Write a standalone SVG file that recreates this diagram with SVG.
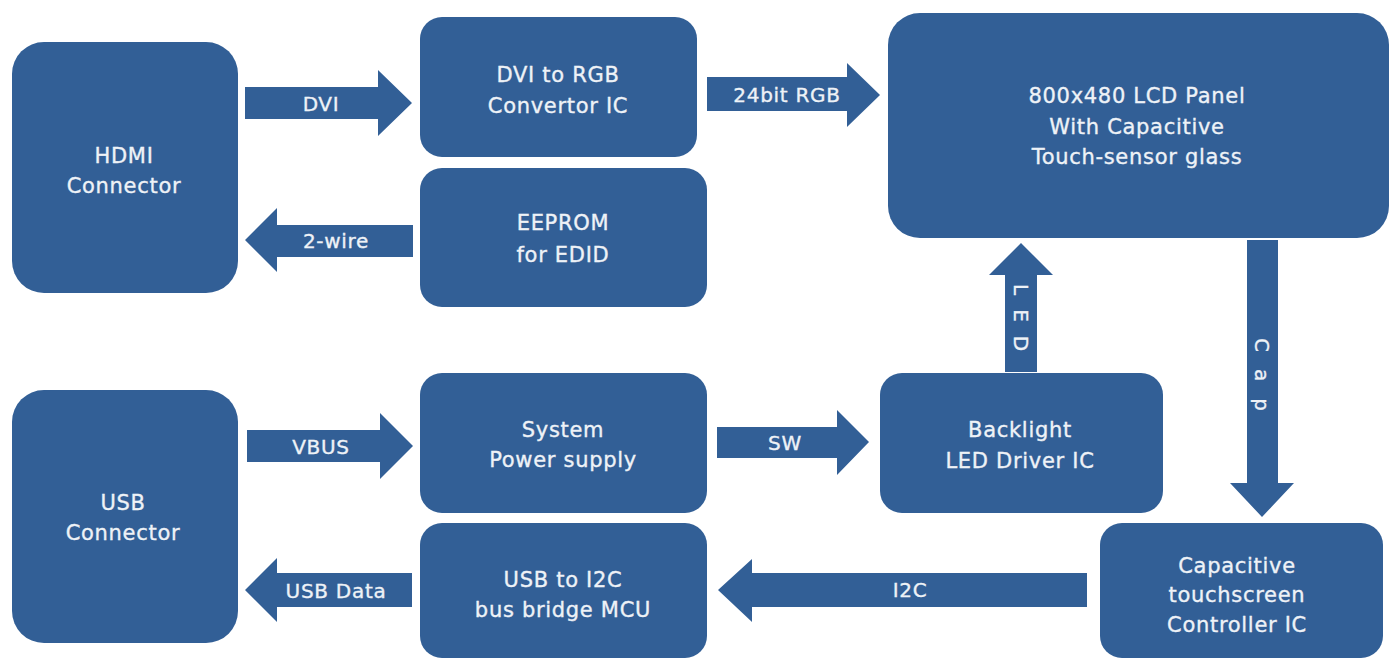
<svg xmlns="http://www.w3.org/2000/svg" width="1393" height="661" viewBox="0 0 1393 661">
<style>
.box{fill:#325f96}
.arr{fill:#325f96}
text{font-family:"DejaVu Sans","Liberation Sans",sans-serif;fill:#eef2f7;stroke:#eef2f7;stroke-width:0.35px;font-size:21px;text-anchor:middle;letter-spacing:0.7px}
.lbl{font-size:20px}
.vert{font-size:20px;text-anchor:start}
.ls14{letter-spacing:14px}
.ls17{letter-spacing:17px}
</style>
<rect width="1393" height="661" fill="#ffffff"/>
<g id="connectors">
<g id="a-dvi"><polygon class="arr" points="245,87 378,87 378,70 412,103 378,136 378,119 245,119"/><text class="lbl" x="321" y="111">DVI</text></g>
<g id="a-2wire"><polygon class="arr" points="413,225 277,225 277,208 245,240 277,272 277,257 413,257"/><text class="lbl" x="336" y="248">2-wire</text></g>
<g id="a-rgb"><polygon class="arr" points="707,77 847,77 847,63 880,95 847,127 847,111 707,111"/><text class="lbl" x="787" y="102">24bit RGB</text></g>
<g id="a-led"><polygon class="arr" points="1005,372 1005,275 989,275 1021,243 1053,275 1037,275 1037,372"/><text class="vert ls14" transform="translate(1021,284) rotate(90)" x="0" y="7">LED</text></g>
<g id="a-cap"><polygon class="arr" points="1247,240 1278,240 1278,483 1294,483 1262,517 1230,483 1247,483"/><text class="vert ls17" transform="translate(1262,338) rotate(90)" x="0" y="7">Cap</text></g>
<g id="a-vbus"><polygon class="arr" points="247,430 380,430 380,413 413,446 380,479 380,462 247,462"/><text class="lbl" x="321" y="454">VBUS</text></g>
<g id="a-sw"><polygon class="arr" points="717,427 837,427 837,410 869,442 837,475 837,458 717,458"/><text class="lbl" x="785" y="450">SW</text></g>
<g id="a-i2c"><polygon class="arr" points="1087,573 752,573 752,559 718,590 752,622 752,607 1087,607"/><text class="lbl" x="910" y="597">I2C</text></g>
<g id="a-usbdata"><polygon class="arr" points="412,573 277,573 277,558 245,590 277,622 277,607 412,607"/><text class="lbl" x="336" y="598">USB Data</text></g>
</g>
<g id="hdmi"><rect class="box" x="12" y="42" width="226" height="251" rx="32"/><text x="124" y="163">HDMI</text><text x="124" y="193">Connector</text></g>
<g id="dvi2rgb"><rect class="box" x="420" y="17" width="277" height="140" rx="22"/><text x="558" y="82">DVI to RGB</text><text x="558" y="113">Convertor IC</text></g>
<g id="eeprom"><rect class="box" x="420" y="168" width="287" height="139" rx="22"/><text x="563" y="230">EEPROM</text><text x="563" y="262">for EDID</text></g>
<g id="lcd"><rect class="box" x="888" y="13" width="501" height="225" rx="32"/><text x="1137" y="103">800x480 LCD Panel</text><text x="1137" y="134">With Capacitive</text><text x="1137" y="164">Touch-sensor glass</text></g>
<g id="usb"><rect class="box" x="12" y="390" width="226" height="253" rx="32"/><text x="123" y="510">USB</text><text x="123" y="540">Connector</text></g>
<g id="power"><rect class="box" x="420" y="373" width="287" height="140" rx="22"/><text x="563" y="437">System</text><text x="563" y="467">Power supply</text></g>
<g id="bridge"><rect class="box" x="420" y="523" width="287" height="135" rx="22"/><text x="563" y="587">USB to I2C</text><text x="563" y="617">bus bridge MCU</text></g>
<g id="backlight"><rect class="box" x="880" y="373" width="283" height="140" rx="22"/><text x="1020" y="437">Backlight</text><text x="1020" y="468">LED Driver IC</text></g>
<g id="touchctl"><rect class="box" x="1100" y="523" width="283" height="135" rx="22"/><text x="1237" y="573">Capacitive</text><text x="1237" y="602">touchscreen</text><text x="1237" y="632">Controller IC</text></g>
</svg>
